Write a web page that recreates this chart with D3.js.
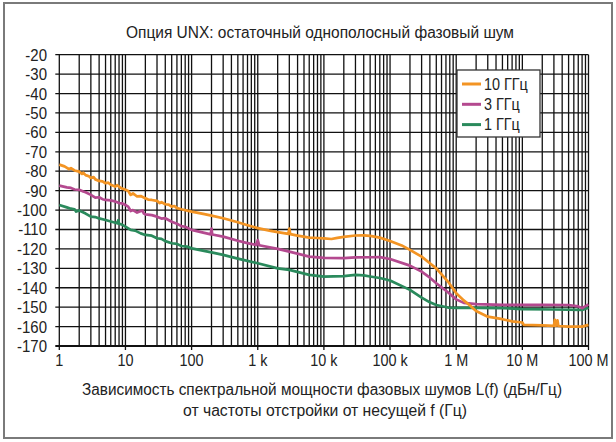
<!DOCTYPE html>
<html><head><meta charset="utf-8">
<script src="https://cdn.jsdelivr.net/npm/d3@7"></script>
<style>
html,body{margin:0;padding:0;background:#fff;}
text{font-family:"Liberation Sans Narrow","Arial Narrow","Liberation Sans",sans-serif;fill:#222;}
</style></head>
<body>
<svg id="chart" width="616" height="442"></svg>
<script>
const title = "Опция UNX: остаточный однополосный фазовый шум";
const xLabelLines = ["Зависимость спектральной мощности фазовых шумов L(f) (дБн/Гц)", "от частоты отстройки от несущей f (Гц)"];
const xTickValues = [1, 10, 100, 1e3, 1e4, 1e5, 1e6, 1e7, 1e8];
const xTickLabels = ["1", "10", "100", "1 k", "10 k", "100 k", "1 M", "10 M", "100 M"];
const yTickValues = [-20, -30, -40, -50, -60, -70, -80, -90, -100, -110, -120, -130, -140, -150, -160, -170];
const seriesNames = ["10 ГГц", "3 ГГц", "1 ГГц"];
const seriesColors = ["#f39423", "#b4498f", "#2a8a5c"];

// 10 GHz: [frequency Hz, dBc/Hz]
const s10GHz = [
 [1,-76.6],[1.2,-77.5],[1.4,-78.9],[1.5,-78.4],[1.7,-79.6],[2,-80.2],[2.2,-81.4],[2.3,-80.8],[2.5,-82.0],[2.8,-82.6],[3,-83.5],[3.3,-83.0],[3.5,-84.2],[4,-85.0],[4.5,-85.2],[5,-86.2],[5.5,-85.9],[6,-87.0],[7,-87.9],[7.5,-87.2],[8.5,-88.6],
 [10,-89.6],[11,-90.2],[12,-92.2],[13,-91.4],[15,-93.0],[17,-92.8],[20,-93.9],[22,-94.6],[25,-94.8],[30,-95.3],[33,-96.4],[35,-95.9],[40,-97.0],[45,-97.2],[50,-98.2],[55,-97.9],[60,-99.0],[70,-99.6],
 [100,-100.8],[150,-102.0],[200,-102.9],[300,-104.2],[500,-106.3],[700,-107.8],
 [1000,-109.3],[1500,-110.6],[2000,-111.4],[2900,-112.3],[3000,-109.5],[3100,-112.4],[4000,-113.2],[6000,-114.2],[8000,-114.4],
 [10000,-114.6],[13000,-114.9],[16000,-114.3],[20000,-113.8],[30000,-113.1],[40000,-113.0],[50000,-113.3],[70000,-114.2],
 [100000,-115.9],[150000,-118.2],[200000,-120.5],[300000,-124.0],[400000,-127.4],[500000,-130.0],[750000,-136.8],
 [1000000,-142.8],[1300000,-146.5],[1600000,-149.0],[2000000,-152.0],[3000000,-154.9],[5000000,-156.2],[7000000,-157.3],
 [10000000,-157.9],[10500000,-159.1],[20000000,-159.4],[30000000,-159.6],[31000000,-156.5],[32000000,-159.6],[34000000,-156.8],[35000000,-159.7],
 [50000000,-160.0],[80000000,-160.0],[100000000,-159.1]
];
// 3 GHz
const s3GHz = [
 [1,-87.4],[1.3,-88.3],[1.5,-88.6],[1.7,-89.4],[2,-89.6],[2.3,-90.4],[2.5,-90.8],[3,-92.2],[3.5,-93.6],[4,-93.4],[4.5,-94.4],[5,-94.8],[6,-95.0],[7,-95.6],[8,-96.4],[9,-96.6],
 [10,-97.4],[11,-98.2],[12,-100.5],[13,-100.0],[15,-101.3],[18,-100.2],[19,-101.8],[20,-102.2],[25,-102.6],[30,-103.4],[35,-104.4],[40,-104.2],[50,-106.0],[60,-107.0],[70,-108.3],[80,-108.6],
 [100,-110.2],[150,-111.6],[195,-112.5],[200,-109.5],[205,-112.6],[300,-113.7],[500,-115.8],[700,-117.0],[950,-118.0],
 [1000,-115.5],[1050,-118.1],[2000,-120.0],[3000,-121.4],[6000,-124.0],
 [10000,-124.6],[20000,-124.8],[30000,-124.4],[50000,-124.3],[70000,-124.2],
 [100000,-125.2],[200000,-128.6],[300000,-131.7],[400000,-134.8],[500000,-137.7],[750000,-142.3],
 [1000000,-146.0],[1300000,-147.8],[2000000,-148.4],[5000000,-148.8],
 [20000000,-148.8],[50000000,-148.9],[70000000,-149.6],[80000000,-150.5],[90000000,-149.5],[100000000,-148.6]
];
// 1 GHz
const s1GHz = [
 [1,-97.4],[1.3,-98.6],[1.5,-99.3],[1.7,-99.6],[1.8,-100.8],[2,-100.2],[2.5,-101.8],[3,-103.4],[3.5,-103.6],[4,-104.3],[5,-105.1],[6,-105.9],[7.5,-106.8],[7.8,-105.2],[8,-107.0],[9,-107.6],
 [10,-108.5],[12,-110.2],[14,-110.6],[17,-112.0],[20,-112.8],[25,-113.2],[30,-114.5],[35,-114.8],[40,-116.0],[50,-117.1],[60,-117.4],[70,-118.5],[85,-118.8],
 [100,-119.7],[200,-121.8],[300,-123.1],[500,-125.0],
 [1000,-127.4],[2000,-130.0],[3000,-130.8],[6000,-133.4],
 [10000,-134.3],[20000,-134.0],[30000,-133.4],[40000,-133.6],[50000,-134.2],[70000,-135.0],
 [100000,-136.3],[200000,-141.1],[300000,-145.1],[400000,-147.5],[500000,-148.9],[750000,-150.2],
 [1000000,-150.4],[2000000,-150.4],[5000000,-150.5],[10000000,-151.0],[30000000,-151.2],[80000000,-151.4],[100000000,-150.3]
];
const seriesData = [s10GHz, s3GHz, s1GHz];

const svg = d3.select("#chart");
svg.append("rect").attr("x",4).attr("y",3).attr("width",608).attr("height",435)
  .attr("fill","#fff").attr("stroke","#7a7a7a").attr("stroke-width",2);

const x = d3.scaleLog().domain([1,1e8]).range([59.3,588.5]);
const y = d3.scaleLinear().domain([-170,-20]).range([346,54.7]);

function squeeze(sel, k){
  sel.each(function(){
    const w = this.getComputedTextLength();
    d3.select(this).attr("textLength", w*k).attr("lengthAdjust","spacingAndGlyphs");
  });
}
function fitTo(sel, w){
  sel.attr("textLength", w).attr("lengthAdjust","spacingAndGlyphs");
}

fitTo(svg.append("text").attr("x",320).attr("y",38).attr("text-anchor","middle")
  .style("font-size","16px").text(title), 388);

const grid = svg.append("g");
grid.selectAll("line.v").data(x.ticks()).enter().append("line")
  .attr("x1",d=>x(d)).attr("x2",d=>x(d)).attr("y1",y(-20)).attr("y2",y(-170))
  .attr("stroke","#111").attr("stroke-width",1.3);
grid.selectAll("line.h").data(yTickValues).enter().append("line")
  .attr("x1",x(1)-4).attr("x2",x(1e8)).attr("y1",d=>y(d)).attr("y2",d=>y(d))
  .attr("stroke","#111").attr("stroke-width",d=>d===-170?2.2:1.3);
grid.selectAll("line.t").data(xTickValues).enter().append("line")
  .attr("x1",d=>x(d)).attr("x2",d=>x(d)).attr("y1",y(-170)).attr("y2",y(-170)+4)
  .attr("stroke","#111").attr("stroke-width",1.3);

squeeze(svg.selectAll("text.yl").data(yTickValues).enter().append("text")
  .attr("x",47).attr("y",d=>y(d)+6).attr("text-anchor","end")
  .style("font-size","17px").text(d=>d), 0.88);
squeeze(svg.selectAll("text.xl").data(xTickValues).enter().append("text")
  .attr("x",d=>x(d)).attr("y",366).attr("text-anchor","middle")
  .style("font-size","16px").text((d,i)=>xTickLabels[i]), 0.9);

const axisWidths = [480, 284];
svg.selectAll("text.at").data(xLabelLines).enter().append("text")
  .attr("x",(d,i)=>i===0?322:325).attr("y",(d,i)=>395+i*21).attr("text-anchor","middle")
  .style("font-size","16px").text(d=>d)
  .attr("textLength",(d,i)=>axisWidths[i]).attr("lengthAdjust","spacingAndGlyphs");

const line = d3.line().x(d=>x(d[0])).y(d=>y(d[1]));
[2,1,0].forEach(i=>{
  svg.append("path").datum(seriesData[i]).attr("d",line)
    .attr("fill","none").attr("stroke",seriesColors[i]).attr("stroke-width",2.7)
    .attr("stroke-linejoin","round");
});

const lg = svg.append("g");
lg.append("rect").attr("x",457).attr("y",70).attr("width",83).attr("height",67)
  .attr("fill","#fff").attr("stroke","#333").attr("stroke-width",1.3);
seriesNames.forEach((n,i)=>{
  const yy = 84 + i*20.3;
  lg.append("line").attr("x1",462).attr("x2",481).attr("y1",yy).attr("y2",yy)
    .attr("stroke",seriesColors[i]).attr("stroke-width",3);
  squeeze(lg.append("text").attr("x",484).attr("y",yy+5.5).style("font-size","16px").text(n), 0.9);
});
</script>
</body></html>
